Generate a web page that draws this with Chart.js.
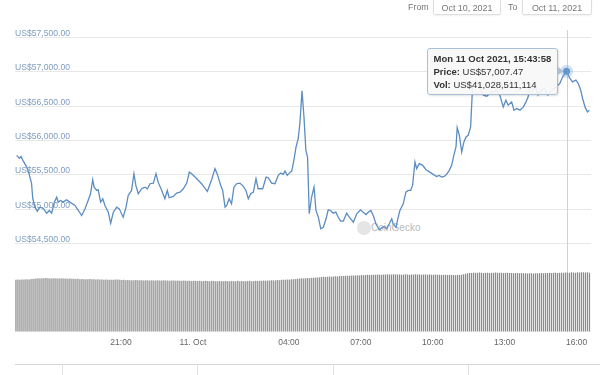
<!DOCTYPE html>
<html>
<head>
<meta charset="utf-8">
<script src="https://cdn.jsdelivr.net/npm/chart.js@4.4.1/dist/chart.umd.min.js"></script>
<style>
body{margin:0;background:#fff;font-family:"Liberation Sans",Arial,sans-serif;}
#wrap{position:relative;width:600px;height:375px;overflow:hidden;}
#canvasG2{position:absolute;left:0;top:0;z-index:1;}
.hdr{position:absolute;top:1px;font-size:8.9px;color:#777;line-height:13px;z-index:2;}
.box{position:absolute;top:-4px;height:17px;border:1px solid #dedede;border-radius:2px;box-shadow:0 1px 2px rgba(0,0,0,0.06);font-size:8.9px;color:#777;line-height:22px;text-align:center;z-index:2;}
#wm{position:absolute;left:357px;top:221px;height:15px;opacity:0.6;z-index:0;}
#wm .dot{position:absolute;left:0;top:0;width:14px;height:14px;border-radius:50%;background:#d4d4d4;}
#wm .txt{position:absolute;left:14px;top:1px;font-size:10px;color:#8c8c8c;white-space:nowrap;}
#nav{position:absolute;left:15px;top:364px;width:585px;height:11px;border-top:1px solid #d6d6d6;}
.navl{position:absolute;top:364px;width:1px;height:11px;background:#e2e2e2;}
#tip{position:absolute;display:none;z-index:3;background:rgba(247,247,247,0.92);border:1px solid #a9bfd8;border-radius:3px;padding:3px 6px;font-size:9.5px;line-height:13px;color:#333;white-space:nowrap;box-shadow:1px 1px 2px rgba(0,0,0,0.12);}
#tip:after{content:"";position:absolute;right:-6px;top:17px;border-top:5px solid transparent;border-bottom:5px solid transparent;border-left:6px solid #a9bfd8;}
</style>
</head>
<body>
<div id="wrap">
  <div id="wm"><div class="dot"></div><div class="txt">CoinGecko</div></div>
  <canvas id="canvasG2" width="600" height="375"></canvas>
  <div class="hdr" style="left:408px;">From</div>
  <div class="box" style="left:433px;width:66px;">Oct 10, 2021</div>
  <div class="hdr" style="left:508px;">To</div>
  <div class="box" style="left:522px;width:68px;">Oct 11, 2021</div>
  <div id="nav"></div>
  <div class="navl" style="left:62px;"></div>
  <div class="navl" style="left:197px;"></div>
  <div class="navl" style="left:333px;"></div>
  <div class="navl" style="left:468px;"></div>
  <div id="tip"></div>
</div>
<script>
//price line : hours since 10 Oct 00:00 / US$
var priceHours = [
16.65,16.76,16.83,16.91,17.07,17.16,17.27,17.32,17.41,17.51,
17.62,17.76,17.90,18.01,18.11,18.22,18.32,18.38,18.48,18.59,
18.73,18.87,19.08,19.22,19.36,19.50,19.63,19.73,19.82,19.88,
19.99,20.05,20.15,20.24,20.33,20.47,20.57,20.68,20.82,20.93,
21.09,21.21,21.30,21.44,21.54,21.62,21.72,21.86,22.00,22.10,
22.21,22.35,22.46,22.55,22.70,22.83,22.93,23.01,23.18,23.32,
23.46,23.60,23.74,23.85,23.95,24.16,24.36,24.60,24.78,24.92,
25.01,25.16,25.24,25.34,25.41,25.51,25.61,25.71,25.82,25.96,
26.10,26.21,26.31,26.41,26.52,26.63,26.72,26.91,27.05,27.14,
27.28,27.42,27.56,27.66,27.77,27.84,27.93,28.02,28.12,28.21,
28.30,28.39,28.46,28.55,28.63,28.71,28.78,28.85,28.95,29.05,
29.13,29.23,29.33,29.44,29.55,29.64,29.74,29.85,29.96,30.06,
30.16,30.27,30.41,30.52,30.69,30.83,30.99,31.10,31.22,31.31,
31.42,31.52,31.63,31.77,31.87,31.97,32.08,32.19,32.29,32.35,
32.47,32.56,32.63,32.77,32.88,32.98,33.08,33.16,33.26,33.33,
33.44,33.58,33.72,33.88,34.02,34.16,34.27,34.37,34.48,34.58,
34.69,34.79,34.88,34.97,35.02,35.11,35.21,35.30,35.39,35.48,
35.58,35.66,35.80,35.97,36.11,36.25,36.39,36.52,36.66,36.80,
36.94,37.05,37.15,37.29,37.39,37.50,37.64,37.78,37.89,37.98,
38.08,38.18,38.28,38.39,38.47,38.64,38.80,38.97,39.17,39.30,
39.42,39.58,39.72,39.83,39.97,40.07,40.17,40.25,40.35,40.45,
40.53];
var priceValues = [
55786,55742,55771,55713,55615,55523,55377,55159,55032,54974,
55032,55013,54944,54984,54944,55105,55178,55105,55129,55105,
55140,55105,55057,54984,54911,55008,55129,55227,55431,55323,
55275,55285,55105,55154,55057,54959,54798,54959,55032,55008,
54886,55032,55202,55275,55519,55348,55227,55300,55323,55300,
55373,55382,55519,55396,55275,55154,55275,55169,55188,55236,
55250,55300,55382,55542,55519,55446,55373,55261,55431,55592,
55519,55348,55275,55032,55057,55154,55081,55323,55373,55382,
55334,55275,55154,55227,55250,55446,55300,55300,55469,55460,
55382,55373,55494,55527,55509,55557,55494,55527,55557,55713,
55907,56029,56248,56723,56344,55859,55761,54936,55178,55323,
54984,54886,54717,54740,54863,54994,54984,54944,54959,54886,
54828,54828,54944,54886,54813,54936,54994,54959,54925,54959,
54984,54911,54790,54702,54731,54750,54717,54790,54863,54790,
54740,54886,54984,55081,55250,55275,55275,55348,55688,55592,
55665,55640,55577,55542,55509,55479,55494,55469,55479,55509,
55567,55640,55786,55907,56189,56077,55834,55980,56052,56077,
56198,56781,56879,56762,56660,56646,56685,56709,56733,56660,
56490,56588,56515,56563,56442,56466,56442,56490,56563,56636,
56806,56733,56792,56660,56709,56762,56660,56733,56781,56831,
56927,57007.47,56904,56854,56879,56831,56733,56612,56490,56417,
56442];

//volume bars : 5 min steps, US$ bn (24h vol)
var volStartHour = 16.62;
var volStepHour = 1 / 12;
var volValues = [
36.1,36.2,36.0,36.3,36.2,36.4,36.3,36.5,36.6,36.8,37.0,37.1,
37.0,37.2,37.1,37.3,37.2,37.1,37.0,37.2,37.1,36.9,37.0,37.1,
36.9,37.0,36.8,36.9,36.7,36.8,36.6,36.7,36.5,36.6,36.5,36.4,
36.5,36.6,36.4,36.5,36.3,36.4,36.2,36.3,36.1,36.2,36.0,36.1,
36.0,36.1,36.3,36.2,36.0,35.9,36.0,35.8,35.9,35.8,35.7,35.8,
35.9,35.8,35.7,35.8,35.6,35.7,35.8,35.6,35.7,35.5,35.6,35.7,
35.6,35.5,35.7,35.6,35.5,35.4,35.6,35.5,35.4,35.5,35.3,35.4,
35.5,35.4,35.3,35.4,35.2,35.3,35.4,35.2,35.3,35.1,35.2,35.3,
35.2,35.1,35.3,35.2,35.0,35.1,35.2,35.0,35.1,35.2,35.0,35.1,
35.2,35.0,35.1,35.3,35.1,35.2,35.0,35.1,35.2,35.3,35.1,35.2,
35.3,35.2,35.4,35.3,35.5,35.4,35.6,35.5,35.7,35.6,35.8,35.9,
35.8,36.0,36.1,36.0,36.2,36.3,36.5,36.4,36.6,36.8,36.9,37.1,
37.0,37.2,37.3,37.2,37.4,37.5,37.7,37.6,37.8,37.9,38.1,38.0,
38.2,38.3,38.2,38.4,38.5,38.4,38.6,38.7,38.6,38.8,38.9,38.8,
39.0,39.1,39.0,39.2,39.1,39.3,39.2,39.4,39.5,39.4,39.6,39.5,
39.6,39.7,39.5,39.6,39.8,39.7,39.9,39.8,39.7,39.9,39.8,39.7,
39.8,39.6,39.7,39.9,39.8,39.6,39.7,39.8,39.9,39.7,39.8,39.6,
39.7,39.8,39.6,39.7,39.5,39.6,39.7,39.5,39.6,39.4,39.5,39.6,
39.4,39.5,39.3,39.4,39.2,39.3,39.4,39.6,39.9,40.2,40.5,40.7,
40.8,40.9,41.0,40.9,41.1,41.0,40.8,40.9,41.0,40.8,40.9,41.0,
41.1,41.0,40.9,41.0,40.8,40.9,41.0,40.7,40.8,40.6,40.7,40.8,
40.6,40.7,40.5,40.6,40.4,40.5,40.6,40.4,40.5,40.6,40.5,40.7,
40.6,40.8,40.7,40.9,40.8,41.0,40.9,40.8,41.0,40.9,41.0,41.03,
41.1,41.0,41.2,41.1,41.0,41.2,41.1,41.3,41.2,41.1,41.2,41.0];

//axis ticks
var tickHours = [21, 24, 28, 31, 34, 37, 40];
var tickLabels = ["21:00", "11. Oct", "04:00", "07:00", "10:00", "13:00", "16:00"];
var priceTicks = [54500, 55000, 55500, 56000, 56500, 57000, 57500];

//tooltip texts
var tipIndex = 201;
var tipTitle = "Mon 11 Oct 2021, 15:43:58";
var tipPrice = "US$57,007.47";
var tipVol = "US$41,028,511,114";

var lineColor = "#5b8dc2";

function fmtUsd(v){
	var s = Math.round(v).toString().replace(/\B(?=(\d{3})+(?!\d))/g, ",");
	return "US$" + s + ".00";
}

//external html tooltip
function drawTip(context){
	var tm = context.tooltip;
	var el = document.getElementById("tip");
	if(tm.opacity === 0){ el.style.display = "none"; return; }
	el.innerHTML = "<b>" + tipTitle + "</b><br><b>Price:</b> " + tipPrice + "<br><b>Vol:</b> " + tipVol;
	el.style.display = "block";
	el.style.left = (tm.caretX - 140) + "px";
	el.style.top = (tm.caretY - 23) + "px";
}

//crosshair line behind the series
var crossPlugin = {
	id: "cross",
	beforeDatasetsDraw: function(chart){
		var act = chart.getActiveElements();
		if(!act.length) return;
		var ctx = chart.ctx, x = act[0].element.x, a = chart.chartArea;
		ctx.save();
		ctx.strokeStyle = "#d0d0d0";
		ctx.lineWidth = 1;
		ctx.beginPath();
		ctx.moveTo(Math.round(x) + 0.5, a.top);
		ctx.lineTo(Math.round(x) + 0.5, a.bottom);
		ctx.stroke();
		ctx.restore();
	}
};

function G2_INIT(){
	Chart.defaults.font.family = '"Liberation Sans", Arial, sans-serif';
	var ctx = document.getElementById("canvasG2").getContext("2d");

	var lineData = [];
	for(var i = 0; i < priceHours.length; i++){
		lineData.push({x: priceHours[i], y: priceValues[i]});
	}
	var barData = [];
	for(var j = 0; j < volValues.length; j++){
		barData.push({x: volStartHour + j * volStepHour, y: volValues[j]});
	}

	window.myChartG2 = new Chart(ctx, {
		data: {
			datasets: [
				{
					type: "line",
					data: lineData,
					yAxisID: "y",
					borderColor: lineColor,
					borderWidth: 1.3,
					pointRadius: 0,
					pointHoverRadius: 3.5,
					pointHoverBackgroundColor: lineColor,
					pointHoverBorderColor: "rgba(124,170,220,0.35)",
					pointHoverBorderWidth: 6,
					tension: 0,
					order: 0
				},
				{
					type: "bar",
					data: barData,
					yAxisID: "yv",
					backgroundColor: "#8c8c8c",
					barPercentage: 0.62,
					categoryPercentage: 1,
					order: 1
				}
			]
		},
		options: {
			responsive: false,
			animation: false,
			devicePixelRatio: 1,
			events: [],
			layout: { padding: { left: 15, right: 9, top: 30, bottom: 21 } },
			plugins: {
				legend: { display: false },
				tooltip: { enabled: false, external: drawTip }
			},
			scales: {
				x: {
					type: "linear",
					offset: false,
					min: 16.58,
					max: 40.60,
					grid: { display: false, drawTicks: false },
					border: { display: false },
					afterBuildTicks: function(s){ s.ticks = tickHours.map(function(v){ return {value: v}; }); },
					ticks: {
						autoSkip: false, maxRotation: 0, padding: 6,
						color: "#666", font: { size: 8.5 },
						callback: function(v, idx){ return tickLabels[idx]; }
					}
				},
				y: {
					position: "left",
					min: 53220,
					max: 57608,
					grid: { color: "#e8e8e8", drawTicks: false },
					border: { display: false },
					afterBuildTicks: function(s){ s.ticks = priceTicks.map(function(v){ return {value: v}; }); },
					ticks: {
						mirror: true, padding: 0, labelOffset: -4,
						color: "#7f9cbf", font: { size: 8.6 },
						callback: function(v){ return fmtUsd(v); }
					}
				},
				yv: {
					display: false,
					min: 0,
					max: 209.2
				}
			}
		},
		plugins: [crossPlugin]
	});

	//show the hovered point like the capture
	var act = [{datasetIndex: 0, index: tipIndex}];
	window.myChartG2.setActiveElements(act);
	window.myChartG2.tooltip.setActiveElements(act, {x: 0, y: 0});
	window.myChartG2.update("none");
}

function initBody(){
	G2_INIT();
}
initBody();
</script>
</body>
</html>
